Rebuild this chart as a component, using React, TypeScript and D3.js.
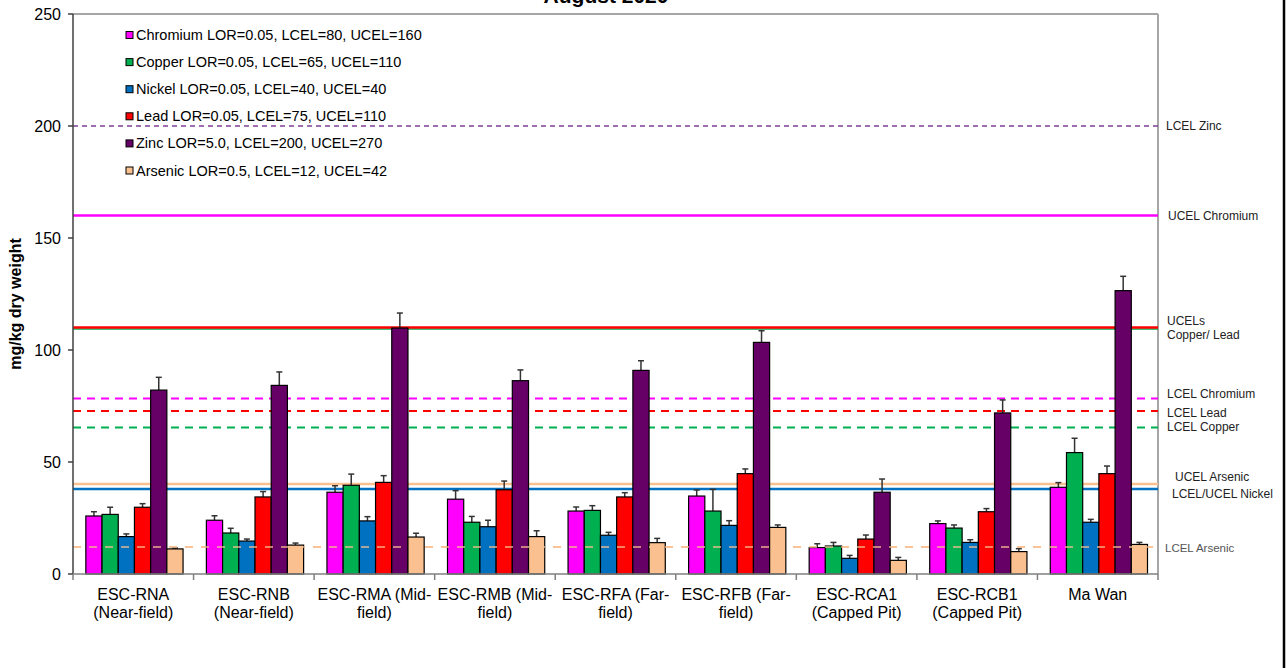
import React from "react";
import * as d3 from "d3";

const categories = [
  ["ESC-RNA", "(Near-field)"],
  ["ESC-RNB", "(Near-field)"],
  ["ESC-RMA (Mid-", "field)"],
  ["ESC-RMB (Mid-", "field)"],
  ["ESC-RFA (Far-", "field)"],
  ["ESC-RFB (Far-", "field)"],
  ["ESC-RCA1", "(Capped Pit)"],
  ["ESC-RCB1", "(Capped Pit)"],
  ["Ma Wan", ""],
];

const seriesNames = ["Chromium", "Copper", "Nickel", "Lead", "Zinc", "Arsenic"];
const legendLabels = [
  "Chromium LOR=0.05, LCEL=80, UCEL=160",
  "Copper LOR=0.05, LCEL=65, UCEL=110",
  "Nickel LOR=0.05, LCEL=40, UCEL=40",
  "Lead LOR=0.05, LCEL=75, UCEL=110",
  "Zinc LOR=5.0, LCEL=200, UCEL=270",
  "Arsenic LOR=0.5, LCEL=12, UCEL=42",
];
const seriesColors = ["#ff00ff", "#00b050", "#0070c0", "#ff0000", "#660066", "#fac090"];

const chromium = [25.9, 24.0, 36.5, 33.4, 28.1, 34.8, 11.8, 22.5, 38.7];
const copper = [26.6, 18.3, 39.6, 23.1, 28.4, 28.1, 12.5, 20.5, 54.2];
const nickel = [16.7, 14.7, 23.7, 21.1, 17.3, 21.7, 7.0, 14.1, 23.1];
const lead = [29.8, 34.4, 40.9, 37.6, 34.4, 44.8, 15.6, 27.8, 44.8];
const zinc = [82.1, 84.2, 109.8, 86.3, 90.9, 103.4, 36.5, 71.9, 126.5];
const arsenic = [11.2, 12.9, 16.5, 16.7, 14.0, 20.8, 6.1, 10.0, 13.2];

const chromiumErr = [27.8, 26.0, 39.4, 37.2, 29.9, 37.5, 13.5, 23.7, 40.8];
const copperErr = [29.8, 20.4, 44.6, 25.7, 30.5, 37.8, 14.1, 21.9, 60.6];
const nickelErr = [17.9, 15.6, 25.6, 24.0, 18.6, 23.8, 8.3, 15.3, 24.4];
const leadErr = [31.4, 36.8, 43.9, 41.5, 36.3, 46.9, 17.4, 29.2, 48.2];
const zincErr = [87.8, 90.2, 116.5, 91.1, 95.2, 108.6, 42.4, 77.7, 132.9];
const arsenicErr = [11.6, 13.8, 18.2, 19.3, 15.9, 21.9, 7.4, 11.3, 14.1];

const seriesValues = [chromium, copper, nickel, lead, zinc, arsenic];
const seriesErrors = [chromiumErr, copperErr, nickelErr, leadErr, zincErr, arsenicErr];

const yTicks = [0, 50, 100, 150, 200, 250];

const refLineValues = [200, 160, 109.4, 110, 78.3, 72.8, 65.4, 40.2, 37.9, 12];
const refLineColors = ["#7f3f98", "#ff00ff", "#00b050", "#ff0000", "#ff00ff", "#ff0000", "#00b050", "#fac090", "#0070c0", "#fac090"];
const refLineDashes = ["5,4", "", "", "", "8,6", "8,6", "8,6", "", "", "8,8"];
const refLineWidths = [1.5, 2.5, 1.5, 2.5, 2, 2, 2, 2.5, 2.5, 1.5];

const refLabels = [
  ["LCEL Zinc"],
  ["UCEL Chromium"],
  ["UCELs", "Copper/ Lead"],
  ["LCEL Chromium"],
  ["LCEL Lead"],
  ["LCEL Copper"],
  ["UCEL Arsenic"],
  ["LCEL/UCEL Nickel"],
  ["LCEL Arsenic"],
];
const refLabelValues = [200, 160, 113.1, 80.6, 72.1, 65.6, 43.6, 36.0, 11.7];
const refLabelIndent = [0, 2, 1, 1, 1, 1, 9, 6, -1];

const W = 1287;
const H = 668;
const left = 73;
const right = 1158;
const top = 14;
const bottom = 574;
const FONT = "'Liberation Sans', Arial, sans-serif";

export default function App() {
  const y = d3.scaleLinear().domain([0, 250]).range([bottom, top]);
  const x0 = d3.scaleBand<number>().domain(d3.range(categories.length)).range([left, right]);
  const x1 = d3
    .scaleBand<number>()
    .domain(d3.range(seriesNames.length))
    .range([0, x0.bandwidth()])
    .paddingOuter(0.72)
    .align(0.55);

  const groupEdges = d3.range(categories.length + 1).map((i) => left + i * x0.step());

  return (
    <svg
      width={W}
      height={H}
      style={{ position: "absolute", left: 0, top: 0, background: "#fff" }}
      fontFamily={FONT}
    >
      <rect x={0} y={0} width={W} height={H} fill="#fff" />
      {/* title */}
      <text x={606} y={3} textAnchor="middle" fontSize={21} fontWeight="bold" fill="#000">
        August 2020
      </text>

      {/* plot border top/right */}
      <line x1={left} x2={right} y1={top} y2={top} stroke="#a6a6a6" strokeWidth={2} />
      <line x1={right} x2={right} y1={top} y2={bottom} stroke="#a6a6a6" strokeWidth={2} />

      {/* reference lines */}
      {refLineValues.map((v, i) => (
        <line
          key={"ref" + i}
          x1={left}
          x2={right}
          y1={y(v)}
          y2={y(v)}
          stroke={refLineColors[i]}
          strokeWidth={refLineWidths[i]}
          strokeDasharray={refLineDashes[i] || undefined}
        />
      ))}

      {/* bars */}
      {categories.map((_, ci) => (
        <g key={"g" + ci} transform={`translate(${x0(ci)},0)`}>
          {seriesValues.map((vals, si) => {
            const bx = x1(si)!;
            const bw = x1.bandwidth();
            const cx = bx + bw / 2;
            return (
              <g key={"b" + si}>
                <line x1={cx} x2={cx} y1={y(vals[ci])} y2={y(seriesErrors[si][ci])} stroke="#333" strokeWidth={1.5} />
                <line x1={cx - 3} x2={cx + 3} y1={y(seriesErrors[si][ci])} y2={y(seriesErrors[si][ci])} stroke="#333" strokeWidth={1.5} />
                <rect
                  x={bx}
                  y={y(vals[ci])}
                  width={bw}
                  height={y(0) - y(vals[ci])}
                  fill={seriesColors[si]}
                  stroke="#000"
                  strokeWidth={1.2}
                />
              </g>
            );
          })}
        </g>
      ))}

      {/* LCEL arsenic dashes drawn over the bars */}
      <line x1={left} x2={right} y1={y(12)} y2={y(12)} stroke="#fac090" strokeWidth={1.5} strokeDasharray="8,8" opacity={0.9} />

      {/* y axis */}
      <line x1={left} x2={left} y1={top} y2={bottom} stroke="#404040" strokeWidth={1.5} />
      {yTicks.map((t) => (
        <g key={"yt" + t}>
          <line x1={left - 5} x2={left} y1={y(t)} y2={y(t)} stroke="#404040" strokeWidth={1.5} />
          <text x={61} y={y(t)} dy="0.35em" textAnchor="end" fontSize={16} fill="#000">
            {t}
          </text>
        </g>
      ))}
      <text
        transform={`translate(21,${304}) rotate(-90)`}
        textAnchor="middle"
        fontSize={16}
        fontWeight="bold"
        fill="#000"
      >
        mg/kg dry weight
      </text>

      {/* x axis */}
      <line x1={left} x2={right} y1={bottom} y2={bottom} stroke="#808080" strokeWidth={1.5} />
      {groupEdges.map((gx, i) => (
        <line key={"xt" + i} x1={gx} x2={gx} y1={bottom} y2={bottom + 6} stroke="#808080" strokeWidth={1.5} />
      ))}
      {categories.map((lines, ci) => (
        <text key={"xl" + ci} x={x0(ci)! + x0.bandwidth() / 2} textAnchor="middle" fontSize={16} fill="#000">
          <tspan x={x0(ci)! + x0.bandwidth() / 2} y={600}>
            {lines[0]}
          </tspan>
          <tspan x={x0(ci)! + x0.bandwidth() / 2} y={618}>
            {lines[1]}
          </tspan>
        </text>
      ))}

      {/* legend */}
      {legendLabels.map((lab, i) => (
        <g key={"lg" + i} transform={`translate(126,${35 + i * 27.1})`}>
          <rect x={0} y={-3.5} width={7} height={7} fill={seriesColors[i]} stroke="#000" strokeWidth={1} />
          <text x={10} y={0} dy="0.35em" fontSize={14.5} fill="#000">
            {lab}
          </text>
        </g>
      ))}

      {/* reference labels */}
      {refLabels.map((lines, i) => (
        <text
          key={"rl" + i}
          x={1166 + refLabelIndent[i]}
          y={y(refLabelValues[i])}
          fontSize={i === 8 ? 11.5 : 12}
          fill={i === 8 ? "#555" : "#222"}
        >
          {lines.map((l, k) => (
            <tspan key={k} x={1166 + refLabelIndent[i]} dy={k === 0 ? "0.35em" : "1.2em"}>
              {l}
            </tspan>
          ))}
        </text>
      ))}

      {/* outer border at right */}
      <line x1={1284} x2={1284} y1={0} y2={H} stroke="#000" strokeWidth={2.5} />
    </svg>
  );
}
